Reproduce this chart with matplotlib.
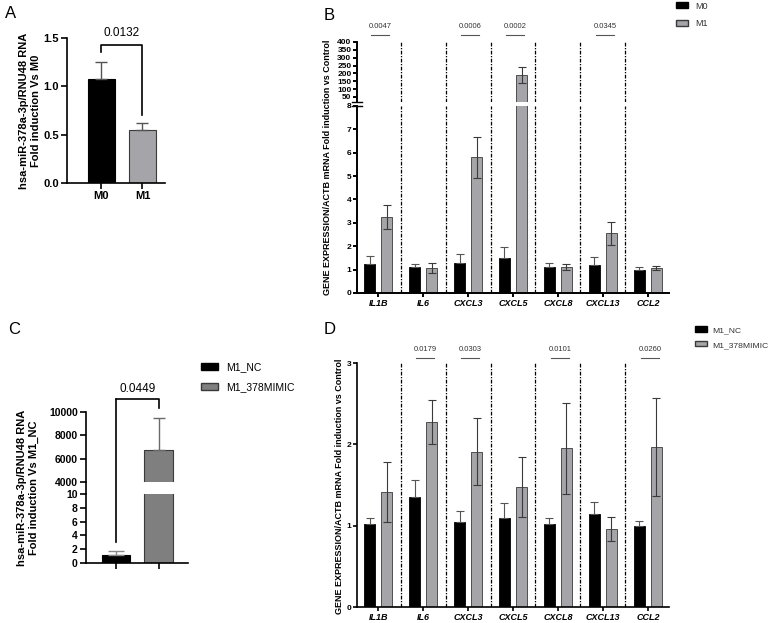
import matplotlib
matplotlib.use('Agg')
import matplotlib.pyplot as plt
from matplotlib.patches import Patch, ConnectionPatch
import numpy as np

plt.rcParams['font.family'] = ['Liberation Sans', 'DejaVu Sans']

W, H = 772, 623

# panel A data
a_groups = ['M0', 'M1']
a_vals = [1.08, 0.55]
a_err = [0.17, 0.07]
a_p = '0.0132'

# panel B data
genes = ['IL1B', 'IL6', 'CXCL3', 'CXCL5', 'CXCL8', 'CXCL13', 'CCL2']
b_m0 = [1.25, 1.10, 1.28, 1.50, 1.10, 1.20, 1.00]
b_m0_err = [0.35, 0.15, 0.37, 0.45, 0.20, 0.35, 0.10]
b_m1 = [3.25, 1.07, 5.80, 190.0, 1.10, 2.55, 1.07]
b_m1_err = [0.53, 0.22, 0.87, 48.0, 0.12, 0.48, 0.08]
b_pvals = {'IL1B': '0.0047', 'CXCL3': '0.0006', 'CXCL5': '0.0002', 'CXCL13': '0.0345'}

# panel C data
c_groups = ['M1_NC', 'M1_378MIMIC']
c_vals = [1.15, 6750]
c_err = [0.55, 2750]
c_p = '0.0449'

# panel D data
d_nc = [1.02, 1.35, 1.05, 1.10, 1.02, 1.14, 0.99]
d_nc_err = [0.08, 0.21, 0.13, 0.18, 0.07, 0.15, 0.07]
d_mimic = [1.41, 2.28, 1.91, 1.48, 1.95, 0.96, 1.97]
d_mimic_err = [0.37, 0.27, 0.41, 0.37, 0.56, 0.15, 0.60]
d_pvals = {'IL6': '0.0179', 'CXCL3': '0.0303', 'CXCL8': '0.0101', 'CCL2': '0.0260'}

gray_light = '#a4a4a9'
gray_dark = '#7f7f7f'
edge = '#3a3a3a'
txt_gray = '#333333'

fig = plt.figure(figsize=(W / 100, H / 100), dpi=100)


def add_ax(left, top, right, bottom):
    return fig.add_axes([left / W, 1 - bottom / H, (right - left) / W, (bottom - top) / H])


def clean(ax, lw=1.1, bottom=True):
    ax.spines['top'].set_visible(False)
    ax.spines['right'].set_visible(False)
    ax.spines['left'].set_linewidth(lw)
    ax.spines['bottom'].set_linewidth(lw)
    if not bottom:
        ax.spines['bottom'].set_visible(False)
        ax.tick_params(axis='x', bottom=False, labelbottom=False)
    ax.tick_params(width=lw, length=3, pad=1)
    ax.set_facecolor('none')


# ---------------- A ----------------
axA = add_ax(67, 38, 165, 183)
xa = np.arange(len(a_groups))
axA.bar(xa, a_vals, width=0.68, color=['black', gray_light], edgecolor=['black', edge], linewidth=0.8)
axA.errorbar(xa, a_vals, yerr=[[0, 0], a_err], fmt='none', ecolor='#555555', elinewidth=1, capsize=4, capthick=1)
axA.set_xlim(-0.84, 1.55)
axA.set_ylim(0, 1.5)
axA.set_yticks([0, 0.5, 1.0, 1.5])
axA.set_yticklabels(['0.0', '0.5', '1.0', '1.5'], fontsize=8, fontweight='bold')
axA.set_xticks(xa)
axA.set_xticklabels(a_groups, fontsize=8, fontweight='bold')
clean(axA, 1.2)
axA.tick_params(length=4, pad=2)
axA.plot([0, 0, 1, 1], [1.355, 1.43, 1.43, 0.70], color='black', lw=1.2, clip_on=False)
axA.text(0.5, 1.55, a_p, ha='center', va='center', fontsize=8.5)
fig.text(30 / W, 1 - 111 / H, 'hsa-miR-378a-3p/RNU48 RNA\nFold induction Vs M0', rotation=90,
         ha='center', va='center', fontsize=8, fontweight='bold', multialignment='center')
fig.text(5 / W, 1 - 13 / H, 'A', fontsize=12, va='center')

# ---------------- B ----------------
axBu = add_ax(357, 42, 669, 102)
axBl = add_ax(357, 106, 669, 293)
xg = np.arange(len(genes))
off, bw = 0.19, 0.245
for ax in (axBu, axBl):
    ax.bar(xg - off, b_m0, width=bw, color='black', edgecolor='black', linewidth=0.6)
    ax.bar(xg + off, b_m1, width=bw, color=gray_light, edgecolor=edge, linewidth=0.6)
    ax.errorbar(xg - off, b_m0, yerr=[np.zeros(len(genes)), b_m0_err], fmt='none', ecolor='#555555',
                elinewidth=0.8, capsize=2.8, capthick=0.8)
    ax.errorbar(xg + off, b_m1, yerr=b_m1_err, fmt='none', ecolor=edge,
                elinewidth=0.8, capsize=2.8, capthick=0.8)
    for xv in xg[:-1] + 0.5:
        ax.axvline(xv, color='black', lw=0.9, ls=(0, (3, 1.2, 1, 1.2)))
    ax.set_xlim(-0.47, 6.47)
axBu.set_ylim(18, 400)
axBu.set_yticks(np.arange(50, 401, 50))
axBl.set_ylim(0, 8)
axBl.set_yticks(np.arange(0, 9, 1))
clean(axBu, 1.4, bottom=False)
clean(axBl, 1.4)
for ax in (axBu, axBl):
    for lab in ax.get_yticklabels():
        lab.set_fontsize(6)
        lab.set_fontweight('bold')
axBl.set_xticks(xg)
axBl.set_xticklabels(genes, fontsize=6.5, fontweight='bold', fontstyle='italic')
# break marks
for ax, yy in ((axBu, 0.0), (axBl, 1.0)):
    ax.plot([-0.016, 0.016], [yy, yy], transform=ax.transAxes, color='black', lw=1.0, clip_on=False)
for g, p in b_pvals.items():
    xv = genes.index(g) + 0.05
    axBu.plot([xv - 0.2, xv + 0.2], [445, 445], color='#555555', lw=0.8, clip_on=False)
    axBu.text(xv, 497, p, ha='center', va='center', fontsize=5.5, color=txt_gray)
fig.text(328 / W, 1 - 167 / H, 'GENE EXPRESSION/ACTB mRNA Fold induction vs Control', rotation=90,
         ha='center', va='center', fontsize=6.5, fontweight='bold')
fig.text(324 / W, 1 - 15 / H, 'B', fontsize=12, va='center')
fig.legend([Patch(facecolor='black', edgecolor='black'), Patch(facecolor=gray_light, edgecolor=edge)],
           ['M0', 'M1'], loc='upper left', bbox_to_anchor=(671 / W, 1 - (-3) / H),
           bbox_transform=fig.transFigure, frameon=False, fontsize=6.5, handlelength=1.4,
           handleheight=0.6, handletextpad=0.8, labelspacing=0.95, borderpad=0,
           labelcolor=txt_gray)

# ---------------- C ----------------
axCu = add_ax(86, 412, 188, 482)
axCl = add_ax(86, 494, 188, 563)
xc = np.arange(len(c_groups))
for ax in (axCu, axCl):
    ax.bar(xc, c_vals, width=0.66, color=['black', gray_dark], edgecolor=['black', edge], linewidth=0.8)
    ax.errorbar(xc[:1], c_vals[:1], yerr=[[0], c_err[:1]], fmt='none', ecolor='#888888',
                elinewidth=1, capsize=6, capthick=1)
    ax.errorbar(xc[1:], c_vals[1:], yerr=[[0], c_err[1:]], fmt='none', ecolor='#6a6a6a',
                elinewidth=1, capsize=4.5, capthick=1)
    ax.set_xlim(-0.706, 1.694)
axCu.set_ylim(4000, 10000)
axCu.set_yticks(np.arange(4000, 10001, 2000))
axCl.set_ylim(0, 10)
axCl.set_yticks(np.arange(0, 11, 2))
clean(axCu, 1.2, bottom=False)
clean(axCl, 1.2)
axCl.set_xticks(xc)
axCl.set_xticklabels([])
axCu.tick_params(length=4, pad=2)
axCl.tick_params(length=4, pad=2)
for ax in (axCu, axCl):
    for lab in ax.get_yticklabels():
        lab.set_fontsize(7.5)
        lab.set_fontweight('bold')
fig.add_artist(ConnectionPatch(xyA=(-0.706, 10), coordsA=axCl.transData, xyB=(-0.706, 4000),
                               coordsB=axCu.transData, color='black', lw=1.2))
fig.add_artist(ConnectionPatch(xyA=(0, 3.0), coordsA=axCl.transData, xyB=(0, 11114),
                               coordsB=axCu.transData, color='black', lw=1.2))
axCu.plot([0, 1, 1], [11114, 11114, 10343], color='black', lw=1.2, clip_on=False)
axCu.text(0.5, 11970, c_p, ha='center', va='center', fontsize=8.5)
fig.text(28 / W, 1 - 488 / H, 'hsa-miR-378a-3p/RNU48 RNA\nFold induction Vs M1_NC', rotation=90,
         ha='center', va='center', fontsize=8, fontweight='bold', multialignment='center')
fig.text(8 / W, 1 - 330 / H, 'C', fontsize=12, va='center')
fig.legend([Patch(facecolor='black', edgecolor='black'), Patch(facecolor=gray_dark, edgecolor=edge)],
           c_groups, loc='upper left', bbox_to_anchor=(196 / W, 1 - 357 / H),
           bbox_transform=fig.transFigure, frameon=False, fontsize=7.5, handlelength=1.6,
           handleheight=0.7, handletextpad=0.8, labelspacing=0.95, borderpad=0)

# ---------------- D ----------------
axD = add_ax(357, 363, 669, 607)
axD.bar(xg - off, d_nc, width=bw, color='black', edgecolor='black', linewidth=0.6)
axD.bar(xg + off, d_mimic, width=bw, color=gray_light, edgecolor=edge, linewidth=0.6)
axD.errorbar(xg - off, d_nc, yerr=[np.zeros(len(genes)), d_nc_err], fmt='none', ecolor='#555555',
             elinewidth=0.8, capsize=2.8, capthick=0.8)
axD.errorbar(xg + off, d_mimic, yerr=d_mimic_err, fmt='none', ecolor=edge,
             elinewidth=0.8, capsize=2.8, capthick=0.8)
for xv in xg[:-1] + 0.5:
    axD.axvline(xv, color='black', lw=0.9, ls=(0, (3, 1.2, 1, 1.2)))
axD.set_xlim(-0.47, 6.47)
axD.set_ylim(0, 3)
axD.set_yticks([0, 1, 2, 3])
clean(axD, 1.2)
for lab in axD.get_yticklabels():
    lab.set_fontsize(6)
    lab.set_fontweight('bold')
axD.set_xticks(xg)
axD.set_xticklabels(genes, fontsize=6.5, fontweight='bold', fontstyle='italic')
for g, p in d_pvals.items():
    xv = genes.index(g) + 0.05
    axD.plot([xv - 0.2, xv + 0.2], [3.06, 3.06], color='#555555', lw=0.8, clip_on=False)
    axD.text(xv, 3.16, p, ha='center', va='center', fontsize=5.5, color=txt_gray)
fig.text(340 / W, 1 - 486 / H, 'GENE EXPRESSION/ACTB mRNA Fold induction vs Control', rotation=90,
         ha='center', va='center', fontsize=6.5, fontweight='bold')
fig.text(324 / W, 1 - 330 / H, 'D', fontsize=12, va='center')
fig.legend([Patch(facecolor='black', edgecolor='black'), Patch(facecolor=gray_light, edgecolor=edge)],
           c_groups, loc='upper left', bbox_to_anchor=(691 / W, 1 - 322 / H),
           bbox_transform=fig.transFigure, frameon=False, fontsize=6.1, handlelength=1.4,
           handleheight=0.6, handletextpad=0.6, labelspacing=0.85, borderpad=0,
           labelcolor=txt_gray)

fig.savefig('out.png', dpi=100)
